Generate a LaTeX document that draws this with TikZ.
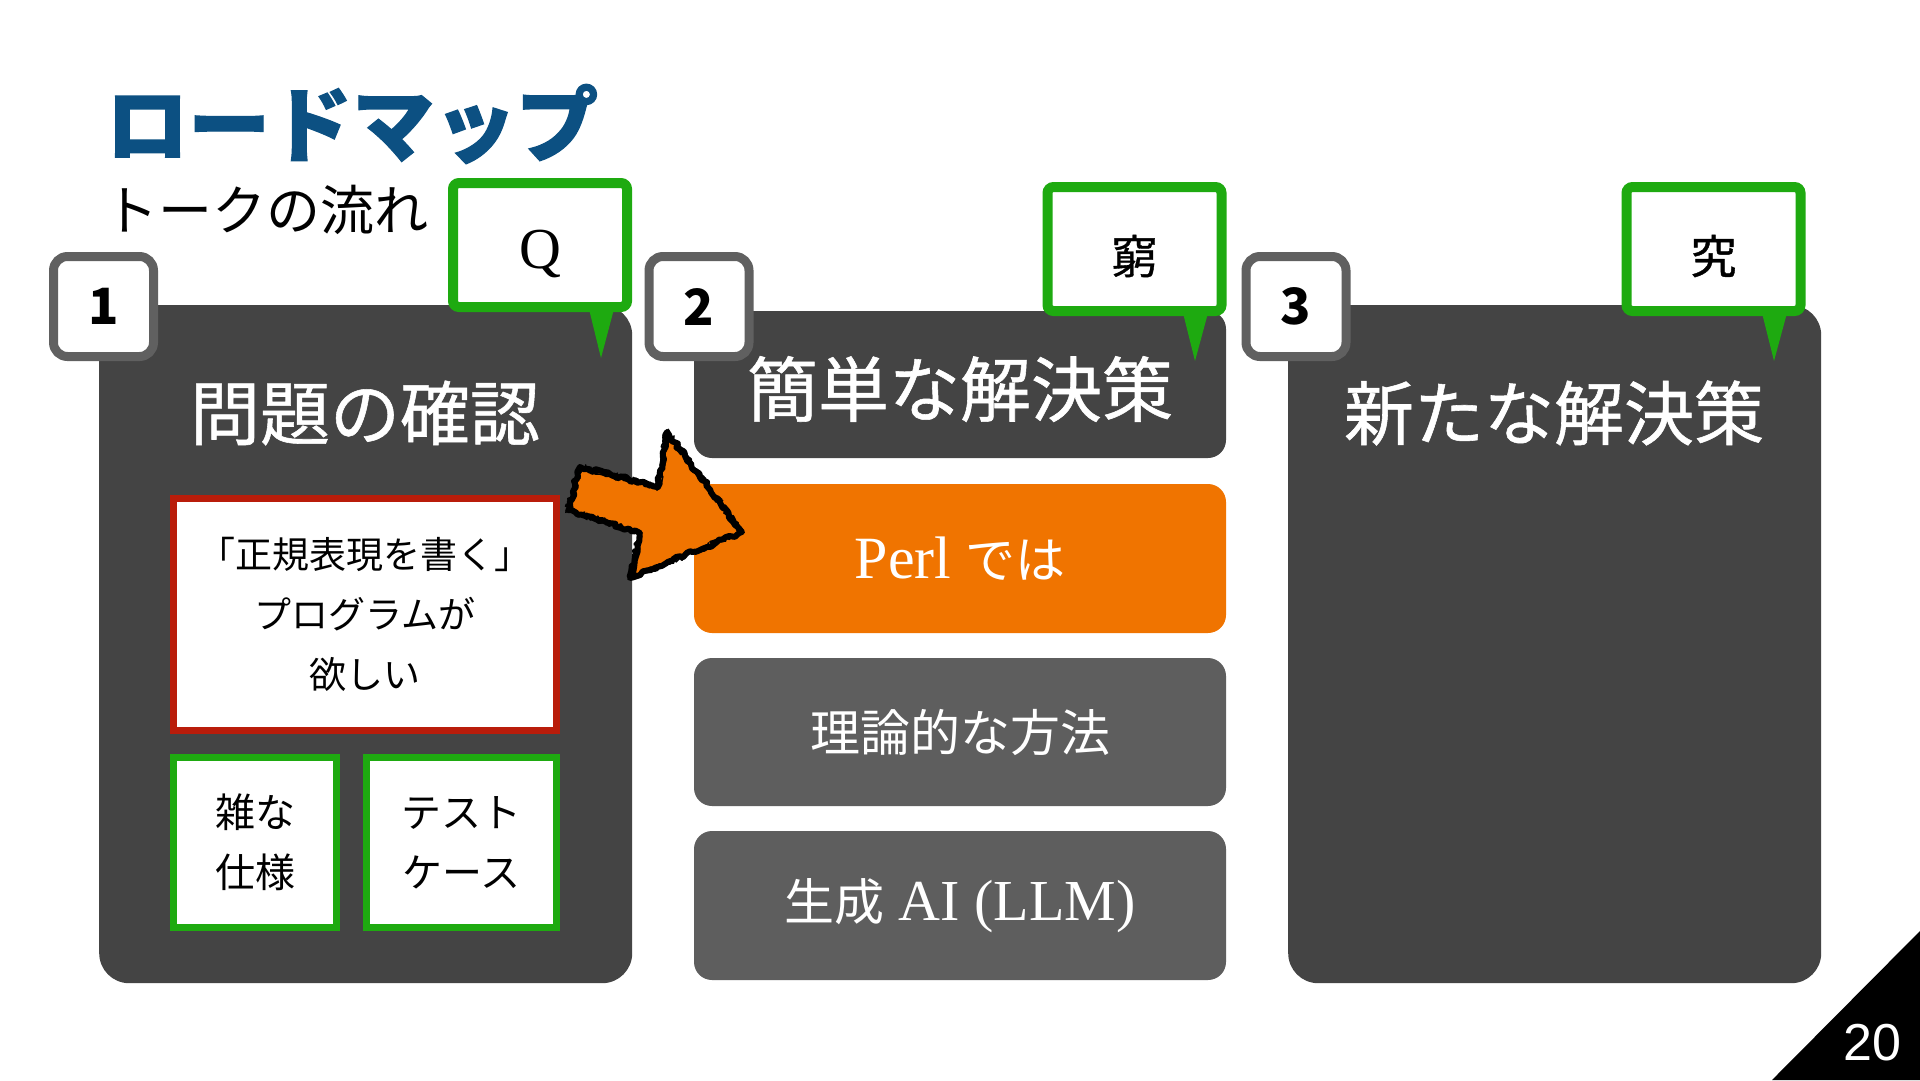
\documentclass[tikz,border=0pt]{standalone}
\usepackage{fontspec}
\setmainfont{Noto Sans CJK JP}
\newfontfamily\jp{Noto Sans CJK JP}
\newfontfamily\jpmed[FakeBold=0.8]{Noto Sans CJK JP}
\newfontfamily\jpheavy[BoldFeatures={FakeBold=1.6}]{Noto Sans CJK JP}
\newfontfamily\lserif{Liberation Serif}
\newfontfamily\lsans{Liberation Sans}
\usetikzlibrary{decorations.pathmorphing}
\definecolor{panelgray}{RGB}{68,68,68}
\definecolor{boxgray}{RGB}{94,94,94}
\definecolor{badgegray}{RGB}{96,96,96}
\definecolor{orng}{RGB}{240,116,0}
\definecolor{grn}{RGB}{30,170,16}
\definecolor{redb}{RGB}{185,28,10}
\definecolor{titleblue}{RGB}{12,80,130}
\newcommand{\fsz}[1]{\fontsize{#1}{#1}\selectfont}
\tikzset{
  panel/.style={fill=panelgray, rounded corners=30, inner sep=0, minimum width=533, minimum height=678, anchor=north west},
  optbox/.style={rounded corners=18, inner sep=0, minimum width=532, text=white, font=\fsz{50}},
  badge/.style={draw=badgegray, line width=9, fill=white, rounded corners=14, minimum width=100, minimum height=100, inner sep=0, font=\bfseries\fsz{50}},
  callout/.style={draw=grn, line width=10, fill=white, rounded corners=6, minimum width=174, minimum height=124, inner sep=0},
  calltext/.style={inner sep=0},
  ptitle/.style={text=white, font=\jpmed\fsz{70}, inner sep=0},
  wbox/.style={fill=white, line width=7, inner sep=0, align=center},
  rough/.style={draw=black, line join=round, decorate, decoration={random steps, segment length=4, amplitude=2}},
}
\begin{document}
\pgfmathsetseed{42}
\begin{tikzpicture}[x=1pt,y=-1pt]
\useasboundingbox (0,0) rectangle (1920,1080);
\fill[white] (0,0) rectangle (1920,1080);

% title
\node (title) [anchor=west, inner sep=0, text=titleblue, font=\jpheavy\bfseries\fsz{82}] at (106,124) {ロードマップ};
\node (sub) [anchor=west, inner sep=0, font=\fsz{54}] at (104,210) {トークの流れ};

% panel 1
\node (p1) [panel] at (99,305) {};
\node (p1t) [ptitle] at (365,413) {問題の確認};
\node (req) [wbox, draw=redb, minimum width=383, minimum height=232, font={\fontsize{37}{60}\selectfont}] at (365,614.5) {「正規表現を書く」\\プログラムが\\欲しい};
\node (spec) [wbox, draw=grn, minimum width=163, minimum height=170, font={\fontsize{40}{60}\selectfont}] at (255,842.5) {雑な\\仕様};
\node (test) [wbox, draw=grn, minimum width=190, minimum height=170, font={\fontsize{40}{60}\selectfont}] at (461.5,842.5) {テスト\\ケース};

% panel 2
\node (p2h) [optbox, fill=panelgray, minimum height=147] at (960,384.5) {};
\node (p2t) [ptitle, font=\jpmed\fsz{71}] at (960,389) {簡単な解決策};
\node (perl) [optbox, fill=orng, minimum height=149] at (960,558.5) {{\lserif\fsz{60}Perl}\hspace{14pt}{\jp\fsz{50}では}};
\node (theory) [optbox, fill=boxgray, minimum height=148] at (960,732) {理論的な方法};
\node (llm) [optbox, fill=boxgray, minimum height=149] at (960,905.5) {{\jp\fsz{50}生成}\hspace{14pt}{\lserif\fsz{58}AI (LLM)}};

% panel 3
\node (p3) [panel] at (1288,305) {};
\node (p3t) [ptitle] at (1554,413) {新たな解決策};

% badges
\node (b1) [badge] at (103.5,306.5) {1};
\node (b2) [badge] at (699,306.5) {2};
\node (b3) [badge] at (1296,306.5) {3};

% callouts
\node (cq) [callout] at (540,245) {};
\node (cqt) [calltext, font=\lserif\fsz{58}] at (540,254) {Q};
\fill[grn] (589,309) -- (614,309) -- (601,358) -- cycle;
\node (ck) [callout] at (1134.5,249) {};
\node (ckt) [calltext, font=\jpmed\fsz{46}] at (1134.5,256) {窮};
\fill[grn] (1183,313) -- (1208,313) -- (1195,361) -- cycle;
\node (cs) [callout] at (1713.5,249) {};
\node (cst) [calltext, font=\jpmed\fsz{46}] at (1713.5,256) {究};
\fill[grn] (1762,313) -- (1787,313) -- (1774,361) -- cycle;

% sketchy arrow
\fill[orng] (580,467) -- (658,487) -- (667,432) -- (742,532) -- (630,578) -- (640,533) -- (568,510) -- cycle;
\draw[rough, line width=6] (580,467) -- (658,487) -- (667,432) -- (742,532) -- (630,578) -- (640,533) -- (568,510) -- cycle;
\draw[rough, line width=2.5, decoration={random steps, segment length=3, amplitude=3}] (580,467) -- (658,487) -- (667,432) -- (742,532) -- (630,578) -- (640,533) -- (568,510) -- cycle;
\draw[rough, line width=1.5, decoration={random steps, segment length=2, amplitude=3.5}] (580,467) -- (658,487) -- (667,432) -- (742,532) -- (630,578) -- (640,533) -- (568,510) -- cycle;

% page number
\fill[black] (1772,1080) -- (1920,1080) -- (1920,931) -- cycle;
\node (pg) [text=white, inner sep=0, font=\lsans\fsz{52}] at (1872,1043) {20};
\end{tikzpicture}
\end{document}
